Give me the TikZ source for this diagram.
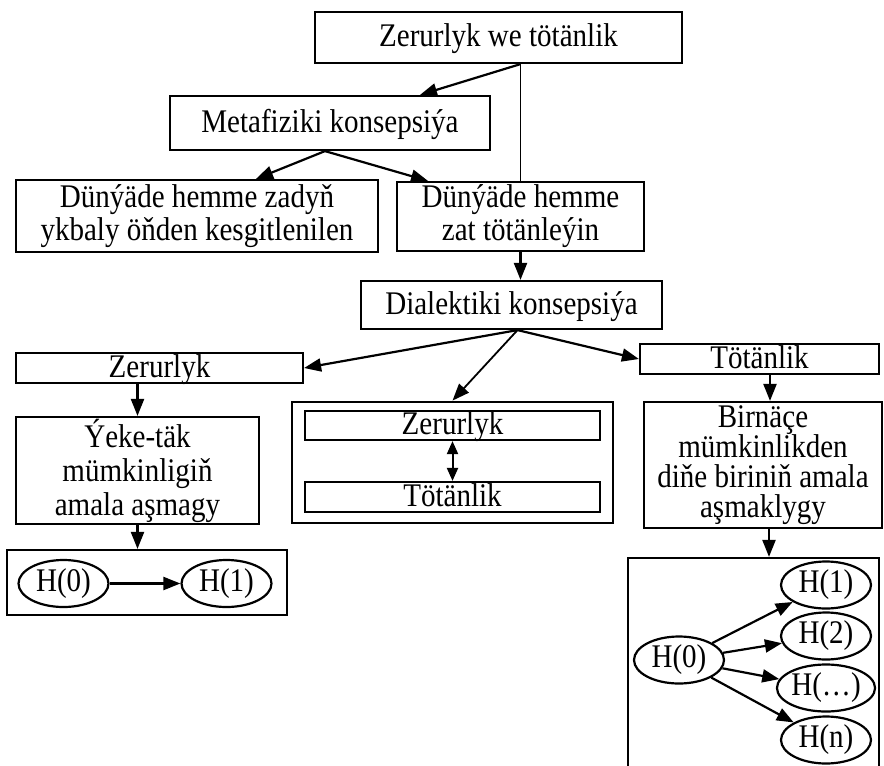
\documentclass[tikz,border=0pt]{standalone}
\usepackage{fontspec}
\setmainfont{Liberation Serif}[FakeStretch=0.88]
\usetikzlibrary{arrows.meta,calc,shapes.geometric}
\newcommand{\fnt}[1]{\fontsize{33}{#1}\selectfont\lineskiplimit=-30pt\relax}
\begin{document}
\begin{tikzpicture}[x=1pt,y=-1pt,
  box/.style={draw, line width=2.2pt, inner sep=0pt, font=\fnt{33}, text height=23pt, text depth=5pt},
  mbox/.style={draw, line width=2.2pt, inner sep=0pt, align=center, font=\fnt{33}},
  ell/.style={draw, ellipse, line width=2.2pt, inner sep=0pt, minimum width=90pt, minimum height=47pt, font=\fnt{33}},
  tip/.tip={Triangle[length=17pt,width=13pt]},
  arr/.style={line width=2.2pt, -tip},
  darr/.style={line width=2pt, {Triangle[length=13pt,width=11pt]}-{Triangle[length=13pt,width=11pt]}},
  thinline/.style={line width=1.5pt}]
\useasboundingbox (0,0) rectangle (884,766);
\clip (0,0) rectangle (884,766);

% boxes
\node[box, minimum width=367pt, minimum height=51pt] (top) at (498.5,37.5) {Zerurlyk we tötänlik};
\node[box, minimum width=320pt, minimum height=54pt] (meta) at (330,123) {Metafiziki konsepsiýa};
\node[mbox, minimum width=362pt, minimum height=72pt] (dleft) at (197,216) {Dünýäde hemme zadyň\\ykbaly öňden kesgitlenilen};
\node[mbox, minimum width=247pt, minimum height=69pt] (dright) at (520.5,216.5) {Dünýäde hemme\\zat tötänleýin};
\node[box, minimum width=301pt, minimum height=48pt] (dial) at (511.5,305) {Dialektiki konsepsiýa};
\node[box, minimum width=287pt, minimum height=30pt] (zer) at (159.5,368) {Zerurlyk};
\node[box, minimum width=239pt, minimum height=30pt] (tot) at (759.5,359) {Tötänlik};
\node[mbox, font=\fnt{34}, minimum width=243pt, minimum height=107pt] (yeke) at (137.5,470.5) {Ýeke-täk\\mümkinligiň\\amala aşmagy};
\node[mbox, font=\fnt{30}, minimum width=238pt, minimum height=126pt] (birn) at (763,465) {Birnäçe\\mümkinlikden\\diňe biriniň amala\\aşmaklygy};

% middle group
\node[box, line width=2.8pt, minimum width=321pt, minimum height=121pt] (mid) at (452.5,462.5) {};
\node[box, minimum width=295pt, minimum height=29pt] (mzer) at (452.5,425.5) {Zerurlyk};
\node[box, minimum width=295pt, minimum height=30pt] (mtot) at (452.5,497) {Tötänlik};

% bottom groups
\node[box, minimum width=280pt, minimum height=65pt] (lbox) at (147,582.5) {};
\node[ell] (h0) at (63.5,583.5) {H(0)};
\node[ell] (h1) at (226.5,583.5) {H(1)};

\node[box, minimum width=251pt, minimum height=230pt] (rbox) at (753.5,673) {};
\node[ell] (r0) at (679,660) {H(0)};
\node[ell] (r1) at (826,585) {H(1)};
\node[ell] (r2) at (826,636) {H(2)};
\node[ell] (r3) at (826,688) {H(…)};
\node[ell] (rn) at (826,740) {H(n)};

% helper points
\coordinate (topout) at (top.south -| dright.north);
\coordinate (metaout) at ($(meta.south)+(-5,0)$);
\coordinate (dialout) at ($(dial.south)+(6,0)$);
\coordinate (birnin) at ($(birn.north)+(7,0)$);
\coordinate (birnout) at ($(birn.south)+(6,0)$);

% connectors
\draw[thinline] (topout) -- (dright.north);
\draw[arr] (topout) -- ($(meta.north)+(90,0)$);
\draw[arr] (metaout) -- ($(dleft.north)+(59,0)$);
\draw[arr] (metaout) -- ($(dright.north)+(-92.5,0)$);
\draw[arr] (dright.south) -- (dright.south |- dial.north);
\draw[arr] (dialout) -- (zer.east);
\draw[arr, line width=1.8pt] (dialout) -- (mid.north);
\draw[arr] (dialout) -- (tot.west);
\draw[arr] (yeke.north |- zer.south) -- (yeke.north);
\draw[arr] (birnin |- tot.south) -- (birnin);
\draw[darr] (mzer.south) -- (mtot.north);
\draw[arr] (yeke.south) -- (yeke.south |- lbox.north);
\draw[arr] (birnout) -- (birnout |- rbox.north);
\draw[arr] (h0) -- (h1);
\draw[arr] (r0) -- (r1);
\draw[arr] (r0) -- (r2);
\draw[arr] (r0) -- (r3);
\draw[arr] (r0) -- (rn);
\end{tikzpicture}
\end{document}
